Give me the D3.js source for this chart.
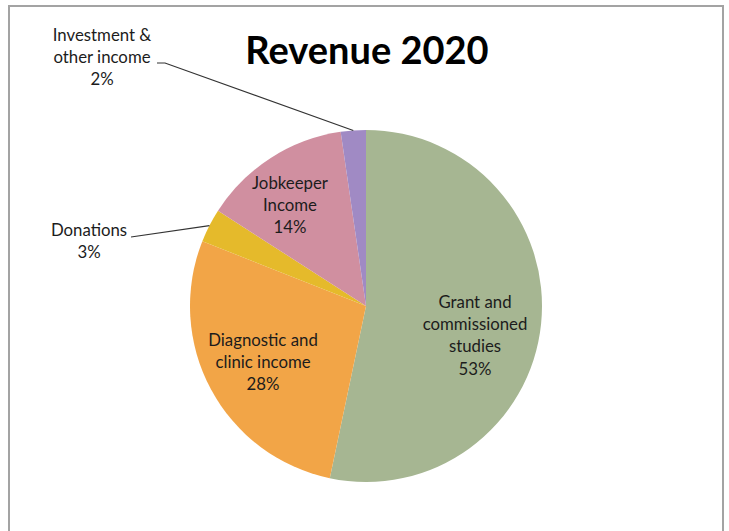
<!DOCTYPE html>
<html>
<head>
<meta charset="utf-8">
<script src="https://cdn.jsdelivr.net/npm/d3@7"></script>
<style>
  body { margin: 0; background: #fff; }
  svg { display: block; }
  text { font-family: Lato, "Open Sans", sans-serif; fill: #1c1c1c; }
</style>
</head>
<body>
<div id="chart"></div>
<script>
// Data (share of revenue, %)
const categories = ['Grant and commissioned studies', 'Diagnostic and clinic income', 'Donations', 'Jobkeeper Income', 'Investment & other income'];
const values = [53.3, 27.7, 3.1, 13.6, 2.3];
const percentLabels = ['53%', '28%', '3%', '14%', '2%'];
const labelLines = [
    ['Grant and', 'commissioned', 'studies'],
    ['Diagnostic and', 'clinic income'],
    ['Donations'],
    ['Jobkeeper', 'Income'],
    ['Investment &', 'other income']
];
const colors = ['#a6b692', '#f2a547', '#e5ba2b', '#d08fa0', '#a08ac4'];

// label placement (center of first line) and whether a leader line is drawn
const labelPos = [
    { x: 475, y: 302, outside: false },
    { x: 263, y: 340, outside: false },
    { x: 89, y: 230, outside: true, lineStart: [131, 237] },
    { x: 290, y: 183, outside: false },
    { x: 102, y: 35, outside: true, lineStart: [157, 63], elbow: [165, 63] }
];

const W = 729, H = 531;
const cx = 366, cy = 306, radius = 176;
const lineH = 22.3;

const svg = d3.select('#chart').append('svg')
    .attr('width', W)
    .attr('height', H);

// chart area border
svg.append('rect')
    .attr('x', 9).attr('y', 6)
    .attr('width', 714).attr('height', H + 20)
    .attr('fill', '#fff')
    .attr('stroke', '#a3a3a3')
    .attr('stroke-width', 2);

svg.append('text')
    .attr('x', cx + 1).attr('y', 64)
    .attr('text-anchor', 'middle')
    .style('font-size', '38px')
    .style('font-weight', 'bold')
    .style('fill', '#000')
    .text('Revenue 2020');

const pie = d3.pie().sort(null).value(d => d);
const arcs = pie(values);
const arc = d3.arc().innerRadius(0).outerRadius(radius);
const edgeArc = d3.arc().innerRadius(radius).outerRadius(radius);

const g = svg.append('g').attr('transform', `translate(${cx},${cy})`);

g.selectAll('path')
    .data(arcs)
    .enter().append('path')
    .attr('d', arc)
    .attr('fill', (d, i) => colors[i]);

// leader lines for the small slices
arcs.forEach((d, i) => {
    const p = labelPos[i];
    if (!p.outside) return;
    const end = edgeArc.centroid(d);
    const pts = [p.lineStart];
    if (p.elbow) pts.push(p.elbow);
    pts.push([end[0] + cx, end[1] + cy]);
    svg.append('path')
        .attr('d', d3.line()(pts))
        .attr('fill', 'none')
        .attr('stroke', '#333')
        .attr('stroke-width', 1.2);
});

// data labels
arcs.forEach((d, i) => {
    const p = labelPos[i];
    const lines = labelLines[i].concat([percentLabels[i]]);
    const t = svg.append('text')
        .attr('text-anchor', 'middle')
        .style('font-size', '16.8px');
    lines.forEach((s, k) => {
        t.append('tspan')
            .attr('x', p.x)
            .attr('y', p.y + k * lineH)
            .attr('dy', '0.35em')
            .text(s);
    });
});
</script>
</body>
</html>
